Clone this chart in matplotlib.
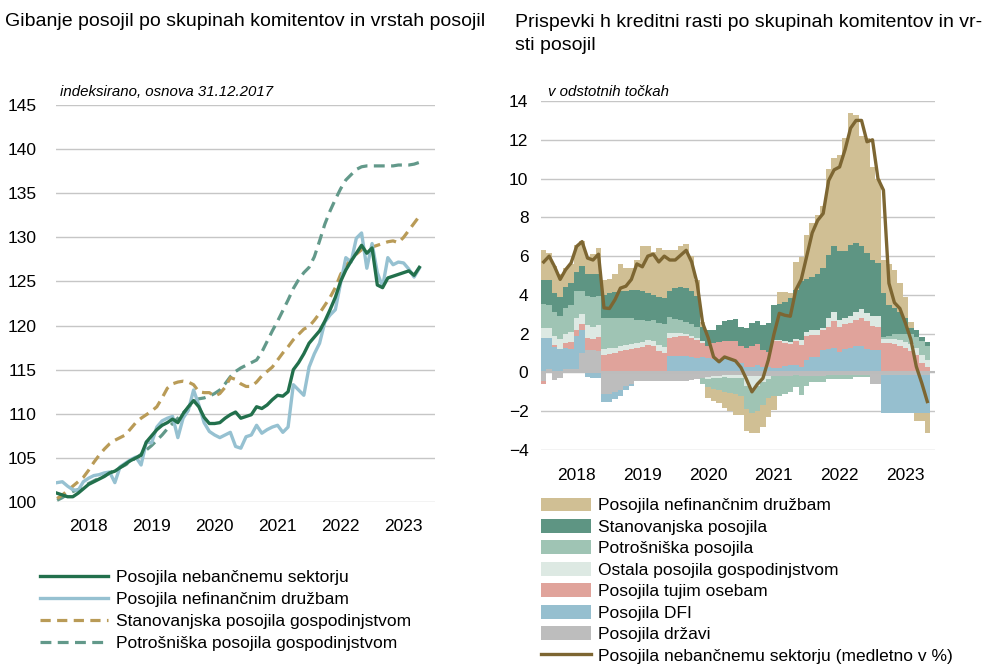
import numpy as np
import matplotlib.pyplot as plt
from matplotlib.patches import Patch
from matplotlib.lines import Line2D

plt.rcParams['font.family'] = ['Liberation Sans', 'DejaVu Sans']

years = ['2018', '2019', '2020', '2021', '2022', '2023']

###### levo: indeksi, 31.12.2017 = 100 (mesecno) ######
nbs_idx = [101.0, 100.8, 100.6, 100.6, 101.0, 101.5, 102.0, 102.3, 102.6, 102.9,
           103.3, 103.5, 103.9, 104.3, 104.7, 105.0, 105.3, 106.8, 107.5, 108.2,
           108.7, 109.0, 109.4, 109.0, 110.0, 110.8, 111.5, 110.8, 109.6, 108.9,
           108.9, 109.0, 109.5, 109.9, 110.2, 109.5, 109.7, 109.9, 110.8, 110.6,
           111.0, 111.6, 112.1, 112.0, 112.5, 115.0, 115.8, 116.8, 118.0, 118.7,
           119.4, 120.5, 121.8, 123.2, 125.0, 126.3, 127.3, 128.2, 129.1, 128.2,
           128.8, 124.6, 124.3, 125.4, 125.6, 125.8, 126.0, 126.2, 125.7, 126.6]
nfd_idx = [102.2, 102.3, 101.8, 101.4, 101.3, 102.3, 102.7, 103.0, 103.1, 103.3,
           103.4, 102.2, 104.0, 104.4, 104.8, 105.1, 104.2, 106.8, 106.7, 108.5,
           109.2, 109.5, 109.7, 107.3, 109.5, 110.4, 112.7, 111.0, 109.0, 108.0,
           107.6, 107.3, 107.6, 107.9, 106.3, 106.1, 107.4, 107.6, 108.7, 107.8,
           108.2, 108.5, 108.7, 107.9, 108.5, 113.3, 112.7, 112.1, 115.3, 116.8,
           118.0, 120.4, 121.2, 121.8, 124.8, 127.7, 127.2, 129.9, 130.5, 126.5,
           129.3, 126.0, 124.4, 127.7, 126.9, 127.2, 127.1, 126.4, 125.5, 126.5]
stan_idx = [100.4, 100.8, 101.3, 101.8, 102.3, 102.8, 103.6, 104.5, 105.3, 106.0,
            106.6, 107.0, 107.3, 107.6, 108.3, 109.0, 109.5, 109.9, 110.3, 110.8,
            111.8, 112.9, 113.4, 113.6, 113.7, 113.6, 113.3, 112.5, 112.4, 112.4,
            112.0, 112.3, 113.0, 114.1, 113.9, 113.4, 113.1, 113.1, 113.6, 114.3,
            114.8, 115.3, 116.1, 116.9, 117.6, 118.4, 119.0, 119.6, 119.9, 120.6,
            121.4, 122.3, 123.2, 124.3, 125.8, 126.8, 127.5, 128.1, 128.6, 128.8,
            128.9, 129.1, 129.3, 129.5, 129.6, 129.4, 130.0, 130.8, 131.6, 132.4]
potr_idx = [100.2, 100.5, 100.9, 101.2, 101.4, 101.7, 102.1, 102.4, 102.7, 103.0,
            103.3, 103.6, 103.9, 104.2, 104.6, 105.0, 105.4, 105.9, 106.4, 107.0,
            107.6, 108.3, 108.9, 109.5, 110.1, 110.7, 111.4, 111.7, 111.8, 112.0,
            112.3, 112.7, 113.4, 114.2, 114.8, 115.2, 115.5, 115.8, 116.1, 117.0,
            118.2, 119.4, 120.5, 121.7, 122.9, 124.2, 125.2, 126.0, 126.6, 127.8,
            129.6, 131.5, 133.0, 134.3, 135.5, 136.5, 137.1, 137.7, 138.0, 138.1,
            138.1, 138.1, 138.1, 138.1, 138.1, 138.2, 138.2, 138.2, 138.3, 138.5]

###### desno: prispevki v odstotnih tockah ######
gov = [-0.45, 0.2, -0.4, -0.3, 0.2, 0.2, 0.2, 1.0, 1.15, 1.15, 1.1,
       -1.1, -1.1, -1.0, -0.9, -0.72, -0.58, -0.46, -0.42, -0.45, -0.42, -0.45, -0.45,
       -0.45, -0.45, -0.45, -0.45, -0.4, -0.35,
       -0.3, -0.25, -0.2, -0.2, -0.15, -0.15, -0.15, -0.15, -0.2, -0.2, -0.2, -0.2,
       -0.2, -0.2, -0.2, -0.2, -0.2, -0.15,
       -0.2, -0.2, -0.2, -0.2, -0.2, -0.15, -0.15, -0.15, -0.15, -0.15, -0.15, -0.15,
       -0.15, -0.6, -0.6,
       -0.15, -0.15, -0.15, -0.15, -0.15, -0.15, -0.15, -0.15, -0.15]
dfi = [1.8, 1.6, 1.3, 1.2, 1.05, 1.0, 1.7, 1.2, -0.25, -0.3, -0.3,
       -0.4, -0.4, -0.35, -0.3, -0.2, -0.1, 0, 0, 0, 0, 0, 0,
       0.85, 0.85, 0.85, 0.85, 0.8, 0.75,
       0.82, 0.74, 0.72, 0.7, 0.7, 0.68, 0.65, 0.5, 0.3, 0.3, 0.4, 0.3,
       0.27, 0.22, 0.25, 0.34, 0.4, 0.4,
       0.3, 0.65, 0.82, 0.82, 1.17, 1.2, 1.25, 1.08, 1.2, 1.25, 1.34, 1.34,
       1.2, 1.17, 1.17,
       -1.95, -1.95, -1.95, -1.95, -1.95, -1.95, -1.95, -1.95, -1.95]
tuj = [-0.15, 0.0, 0.1, 0.0, 0.25, 0.35, 0.3, 0.3, 0.65, 0.6, 0.75,
       0.9, 0.95, 1.0, 1.1, 1.17, 1.2, 1.25, 1.3, 1.43, 1.35, 1.1, 1.0,
       0.95, 1.0, 1.05, 1.05, 1.0, 0.95,
       0.7, 0.6, 0.78, 0.85, 0.9, 0.92, 0.95, 0.85, 0.95, 1.05, 1.05, 0.85,
       0.8, 1.38, 1.35, 1.16, 1.05, 1.2,
       1.13, 1.21, 1.12, 1.12, 1.03, 1.17, 1.38, 1.29, 1.3, 1.29, 1.36, 1.46,
       1.43, 1.23, 1.2,
       1.5, 1.5, 1.45, 1.35, 1.25, 1.1, 0.9, 0.5, 0.3]
ost = [0.5, 0.5, 0.5, 0.55, 0.5, 0.55, 0.6, 0.5, 0.65, 0.6, 0.6,
       0.3, 0.3, 0.25, 0.25, 0.25, 0.25, 0.25, 0.25, 0.25, 0.25, 0.3, 0.3,
       0.25, 0.2, 0.15, 0.1, 0.1, 0.1,
       0.1, -0.1, -0.1, -0.1, -0.1, -0.12, -0.15, -0.15, -0.5, -0.7, -0.5, -0.3,
       -0.15, 0.1, 0.1, 0.1, 0.1, 0.15,
       0.25, 0.24, 0.26, 0.26, 0.1, 0.43, 0.51, 0.33, 0.3, 0.36, 0.44, 0.47,
       0.43, 0.5, 0.53,
       0.25, 0.25, 0.3, 0.3, 0.3, 0.35, 0.35, 0.4, 0.35]
potr = [1.25, 1.2, 1.2, 1.15, 1.3, 1.4, 1.4, 1.2, 1.5, 1.55, 1.5,
        1.6, 1.55, 1.55, 1.45, 1.38, 1.35, 1.2, 1.15, 1.0, 1.1, 1.15, 1.2,
        0.8, 0.7, 0.65, 0.6, 0.6, 0.55,
        -0.3, -0.4, -0.55, -0.6, -0.75, -0.78, -0.8, -0.9, -1.2, -1.2, -1.3, -1.2,
        -0.95, -1.0, -1.0, -0.9, -0.8, -0.6,
        -0.95, -0.5, -0.3, -0.3, -0.3, -0.2, -0.2, -0.2, -0.2, -0.2, -0.1, -0.1,
        -0.1, 0.0, 0.0,
        0.1, 0.15, 0.25, 0.35, 0.45, 0.55, 0.6, 0.7, 0.7]
stan = [1.2, 1.25, 1.0, 1.0, 1.1, 1.1, 1.0, 1.3, 1.15, 1.2, 1.15,
        1.2, 1.3, 1.35, 1.4, 1.4, 1.45, 1.55, 1.5, 1.42, 1.3, 1.35, 1.35,
        1.35, 1.6, 1.7, 1.75, 1.7, 1.6,
        0.75, 0.86, 0.7, 0.9, 1.05, 1.1, 1.15, 1.0, 1.05, 1.2, 1.2, 1.3,
        1.5, 1.8, 1.85, 2.05, 2.3, 2.5,
        3.02, 2.7, 2.7, 2.9, 3.1, 3.27, 3.36, 3.57, 3.47, 3.68, 3.54, 3.23,
        3.11, 2.9, 2.75,
        2.25, 1.6, 1.3, 1.1, 0.8, 0.3, 0.35, 0.25, 0.2]
nfd = [1.55, 1.4, 1.4, 1.2, 1.0, 1.0, 1.4, 1.3, 0.85, 1.0, 1.3,
       0.75, 0.7, 0.95, 1.4, 1.2, 1.15, 1.55, 2.3, 2.4, 2.2, 2.5, 2.45,
       2.1, 1.95, 2.1, 2.3, 1.8, 0.8,
       0.25, -0.55, -0.6, -0.7, -0.85, -0.95, -1.1, -1.0, -1.1, -1.0, -1.1, -1.1,
       -1.0, -0.75, 0.6, 0.5, 0.25, 1.45,
       1.28, 2.3, 2.8, 3.0, 3.2, 4.43, 4.55, 4.93, 5.83, 6.82, 6.62, 5.7,
       5.93, 4.8, 4.35,
       1.7, 2.1, 2.0, 1.5, 1.1, 0.3, -0.4, -0.4, -1.0]
rast_nbs = [5.7, 6.0, 5.45, 4.8, 5.3, 5.65, 6.5, 6.75, 5.9, 5.8, 6.1,
            3.33, 3.3, 3.75, 4.35, 4.45, 4.8, 5.6, 5.45, 6.0, 6.1, 5.7, 6.0,
            5.8, 5.8, 6.05, 6.3, 5.7, 4.6,
            2.55, 1.8, 0.8, 0.55, 0.8, 0.7, 0.6, 0.25, -0.35, -1.0, -0.6, -0.3,
            0.65, 1.95, 3.05, 2.95, 2.9, 4.25,
            4.8, 6.0, 7.2, 7.85, 8.2, 9.9, 10.45, 10.6, 11.5, 12.6, 13.0, 13.0,
            11.9, 12.0, 10.0,
            9.4, 4.6, 3.6, 3.3, 2.55, 1.7, 0.3, -0.55, -1.5]

grid_c = '#c6c6c6'
fs = 12.5

fig = plt.figure(figsize=(9.85, 6.66), dpi=100)

####### levi graf #######
ax1 = fig.add_axes([0.0569, 0.2462, 0.3848, 0.5961])
x = np.arange(len(nbs_idx))
ax1.plot(x, potr_idx, color='#62998a', lw=2.3, ls=(0, (3.4, 2.0)))
ax1.plot(x, stan_idx, color='#b99b57', lw=2.3, ls=(0, (3.2, 2.0)))
ax1.plot(x, nfd_idx, color='#96c1d1', lw=2.4)
ax1.plot(x, nbs_idx, color='#22704c', lw=2.4)
ax1.set_ylim(100, 145)
ax1.set_yticks(range(100, 146, 5))
ax1.set_xlim(-0.2, 72)
ax1.set_xticks([6 + 12 * k for k in range(len(years))])
ax1.set_xticklabels(years)
ax1.grid(axis='y', color=grid_c, lw=1)
ax1.set_axisbelow(True)
for s in ax1.spines.values():
    s.set_visible(False)
ax1.tick_params(axis='y', length=0, labelsize=fs, pad=14)
ax1.tick_params(axis='x', length=0, labelsize=fs, pad=12)

####### desni graf #######
ax2 = fig.add_axes([0.5492, 0.3243, 0.4, 0.524])
xs = np.arange(len(gov))
series = [gov, dfi, tuj, ost, potr, stan, nfd]
colors = ['#bdbdbd', '#96bfcf', '#e0a39b', '#dde9e3', '#9fc4b4', '#5e9583', '#d0bf94']
names = ['Posojila državi', 'Posojila DFI', 'Posojila tujim osebam',
         'Ostala posojila gospodinjstvom', 'Potrošniška posojila',
         'Stanovanjska posojila', 'Posojila nefinančnim družbam']
pos_bot = np.zeros(len(xs))
neg_bot = np.zeros(len(xs))
for vals, c in zip(series, colors):
    v = np.array(vals, dtype=float)
    p = np.where(v > 0, v, 0)
    n = np.where(v < 0, v, 0)
    ax2.bar(xs, p, bottom=pos_bot, width=1.0, color=c, lw=0, zorder=2)
    ax2.bar(xs, n, bottom=neg_bot, width=1.0, color=c, lw=0, zorder=2)
    pos_bot += p
    neg_bot += n
ax2.axhline(0, color='#bcbcbc', lw=1.5, zorder=2.5)
ax2.plot(xs, rast_nbs, color='#7d6632', lw=2.4, zorder=3)
ax2.set_ylim(-4, 14)
ax2.set_yticks(range(-4, 15, 2))
ax2.set_xlim(-0.5, 71.4)
ax2.set_xticks([6 + 12 * k for k in range(len(years))])
ax2.set_xticklabels(years)
ax2.grid(axis='y', color=grid_c, lw=1)
ax2.set_axisbelow(True)
for s in ax2.spines.values():
    s.set_visible(False)
ax2.tick_params(axis='y', length=0, labelsize=fs, pad=9)
ax2.tick_params(axis='x', length=0, labelsize=fs, pad=13)

####### naslovi #######
fig.text(5 / 985, 1 - 21 / 666, 'Gibanje posojil po skupinah komitentov in vrstah posojil',
         fontsize=14, va='center', ha='left')
fig.text(515 / 985, 1 - 34 / 666,
         'Prispevki h kreditni rasti po skupinah komitentov in vr-\nsti posojil',
         fontsize=14, va='center', ha='left', linespacing=1.5)
fig.text(60 / 985, 1 - 92 / 666, 'indeksirano, osnova 31.12.2017',
         fontsize=10.8, style='italic', va='center', ha='left')
fig.text(548 / 985, 1 - 92 / 666, 'v odstotnih točkah',
         fontsize=10.8, style='italic', va='center', ha='left')

####### legende #######
h1 = [Line2D([], [], color='#22704c', lw=2.4),
      Line2D([], [], color='#96c1d1', lw=2.4),
      Line2D([], [], color='#b99b57', lw=2.3, ls=(0, (3.2, 2.0))),
      Line2D([], [], color='#62998a', lw=2.3, ls=(0, (3.4, 2.0)))]
l1 = ['Posojila nebančnemu sektorju', 'Posojila nefinančnim družbam',
      'Stanovanjska posojila gospodinjstvom', 'Potrošniška posojila gospodinjstvom']
fig.legend(h1, l1, loc='upper left', bbox_to_anchor=(0.041, 0.145), frameon=False,
           fontsize=fs, borderpad=0, borderaxespad=0, handlelength=3.9,
           handletextpad=0.45, labelspacing=0.4)

h2 = [Patch(color=c, lw=0) for c in colors[::-1]] + [Line2D([], [], color='#7d6632', lw=2.4)]
l2 = names[::-1] + ['Posojila nebančnemu sektorju (medletno v %)']
fig.legend(h2, l2, loc='upper left', bbox_to_anchor=(0.549, 0.253), frameon=False,
           fontsize=fs, borderpad=0, borderaxespad=0, handlelength=2.9, handleheight=0.85,
           handletextpad=0.4, labelspacing=0.32)

fig.savefig('out.png', dpi=100)
